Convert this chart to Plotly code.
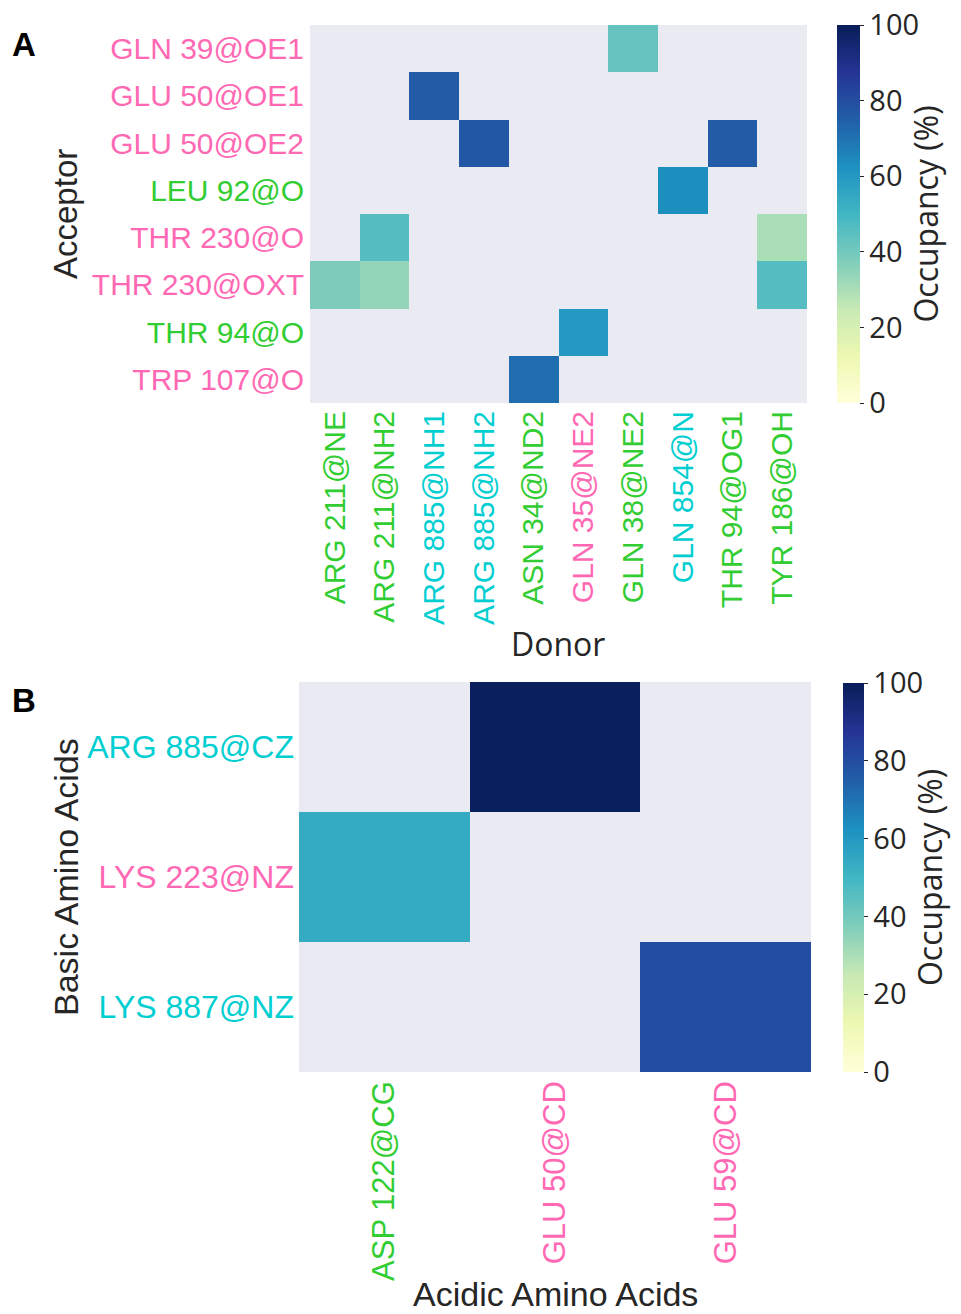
import plotly.graph_objects as go

W, H = 961, 1314

PINK = "#FF69B4"
GREEN = "#32CD32"
CYAN = "#00CED1"
DARK = "#262626"

# Panel A: hydrogen-bond occupancy (%), rows = acceptors, columns = donors
acceptors = ["GLN 39@OE1", "GLU 50@OE1", "GLU 50@OE2", "LEU 92@O",
             "THR 230@O", "THR 230@OXT", "THR 94@O", "TRP 107@O"]
acceptor_colors = [PINK, PINK, PINK, GREEN, PINK, PINK, GREEN, PINK]

donors = ["ARG 211@NE", "ARG 211@NH2", "ARG 885@NH1", "ARG 885@NH2", "ASN 34@ND2",
          "GLN 35@NE2", "GLN 38@NE2", "GLN 854@N", "THR 94@OG1", "TYR 186@OH"]
donor_colors = [GREEN, GREEN, CYAN, CYAN, GREEN, PINK, GREEN, CYAN, GREEN, GREEN]

N = None
hbond_occupancy = [
    [N,  N,  N,  N,  N,  N,  43, N,  N,  N],
    [N,  N,  76, N,  N,  N,  N,  N,  N,  N],
    [N,  N,  N,  77, N,  N,  N,  N,  76, N],
    [N,  N,  N,  N,  N,  N,  N,  63, N,  N],
    [N,  46, N,  N,  N,  N,  N,  N,  N,  30],
    [38, 34, N,  N,  N,  N,  N,  N,  N,  46],
    [N,  N,  N,  N,  N,  60, N,  N,  N,  N],
    [N,  N,  N,  N,  71, N,  N,  N,  N,  N],
]

# Panel B: salt-bridge occupancy (%), rows = basic residues, columns = acidic residues
basic_residues = ["ARG 885@CZ", "LYS 223@NZ", "LYS 887@NZ"]
basic_colors = [CYAN, PINK, CYAN]

acidic_residues = ["ASP 122@CG", "GLU 50@CD", "GLU 59@CD"]
acidic_colors = [GREEN, PINK, PINK]

saltbridge_occupancy = [
    [N,  99, N],
    [54, N,  N],
    [N,  N,  80],
]

cbar_ticks = [0, 20, 40, 60, 80, 100]

YLGNBU = [
    [0.000, "#ffffd9"], [0.125, "#edf8b1"], [0.250, "#c7e9b4"],
    [0.375, "#7fcdbb"], [0.500, "#41b6c4"], [0.625, "#1d91c0"],
    [0.750, "#225ea8"], [0.875, "#253494"], [1.000, "#081d58"],
]


def px_x(x):
    return x / W


def px_y(y):
    return 1 - y / H


def colored(labels, colors):
    return [f"<span style='color:{c}'>{t}</span>" for t, c in zip(labels, colors)]


def colorbar(x0, top, bottom, thick):
    return dict(
        x=px_x(x0), xanchor="left", xpad=0,
        y=px_y(top), yanchor="top", ypad=0,
        len=bottom - top, lenmode="pixels",
        thickness=thick, outlinewidth=0,
        tickvals=cbar_ticks, ticks="outside", ticklen=4, tickwidth=1,
        tickcolor=DARK,
        tickfont=dict(family="Open Sans", size=29, color=DARK),
        title=dict(text="Occupancy (%)", side="right",
                   font=dict(family="Open Sans", size=32, color=DARK)),
    )


fig = go.Figure()

fig.add_trace(go.Heatmap(
    z=hbond_occupancy, x=list(range(len(donors))), y=list(range(len(acceptors))),
    colorscale=YLGNBU, zmin=0, zmax=100,
    xaxis="x", yaxis="y",
    colorbar=colorbar(837, 25, 403, 23),
    hoverongaps=False,
))

fig.add_trace(go.Heatmap(
    z=saltbridge_occupancy, x=list(range(len(acidic_residues))),
    y=list(range(len(basic_residues))),
    colorscale=YLGNBU, zmin=0, zmax=100,
    xaxis="x2", yaxis="y2",
    colorbar=colorbar(843, 683, 1072, 21),
    hoverongaps=False,
))

axis_common = dict(showgrid=False, zeroline=False, showline=False, ticks="")

fig.update_layout(
    width=W, height=H,
    margin=dict(l=0, r=0, t=0, b=0),
    paper_bgcolor="white",
    plot_bgcolor="#EAEAF2",
    font=dict(family="Liberation Sans", color=DARK),
    xaxis=dict(
        domain=[px_x(310), px_x(807)], anchor="y",
        tickmode="array", tickvals=list(range(len(donors))),
        ticktext=colored(donors, donor_colors), tickangle=-90,
        tickfont=dict(family="Liberation Sans", size=30),
        ticklabelstandoff=1,
        range=[-0.5, len(donors) - 0.5],
        **axis_common,
    ),
    yaxis=dict(
        domain=[px_y(403), px_y(25)], anchor="x",
        tickmode="array", tickvals=list(range(len(acceptors))),
        ticktext=colored(acceptors, acceptor_colors),
        tickfont=dict(family="Liberation Sans", size=30),
        ticklabelstandoff=5,
        range=[len(acceptors) - 0.5, -0.5],
        **axis_common,
    ),
    xaxis2=dict(
        domain=[px_x(299), px_x(811)], anchor="y2",
        tickmode="array", tickvals=list(range(len(acidic_residues))),
        ticktext=colored(acidic_residues, acidic_colors), tickangle=-90,
        tickfont=dict(family="Liberation Sans", size=31),
        ticklabelstandoff=2,
        range=[-0.5, len(acidic_residues) - 0.5],
        **axis_common,
    ),
    yaxis2=dict(
        domain=[px_y(1072), px_y(682)], anchor="x2",
        tickmode="array", tickvals=list(range(len(basic_residues))),
        ticktext=colored(basic_residues, basic_colors),
        tickfont=dict(family="Liberation Sans", size=32),
        ticklabelstandoff=4,
        range=[len(basic_residues) - 0.5, -0.5],
        **axis_common,
    ),
)


def label(text, x, y, size, angle=0, bold=False, family="Liberation Sans"):
    fig.add_annotation(
        text=f"<b>{text}</b>" if bold else text,
        x=px_x(x), y=px_y(y), xref="paper", yref="paper",
        xanchor="center", yanchor="middle", showarrow=False, textangle=angle,
        font=dict(family=family, size=size, color="black" if bold else DARK),
    )


label("A", 24, 44, 33, bold=True)
label("B", 24, 700, 33, bold=True)
label("Acceptor", 66, 214, 33, angle=-90)
label("Donor", 558, 643, 32, family="Open Sans")
label("Basic Amino Acids", 66, 877, 34, angle=-90)
label("Acidic Amino Acids", 555, 1294, 34)

fig.write_html("out.html")
